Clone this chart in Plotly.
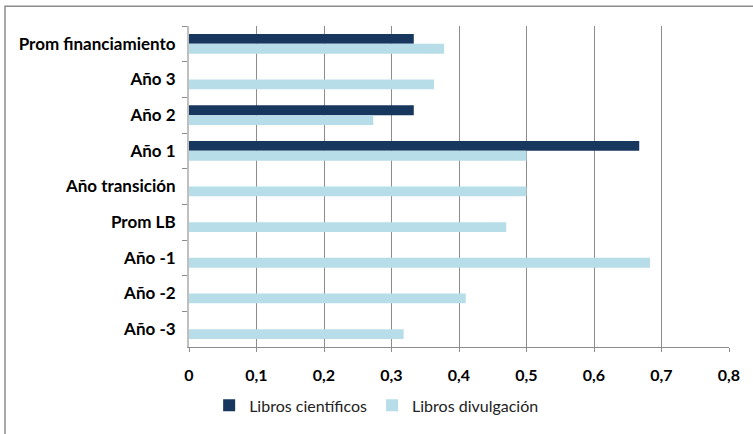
import plotly.graph_objects as go

# Categories listed top-to-bottom (axis reversed)
categories = ["Prom financiamiento", "Año 3", "Año 2", "Año 1", "Año transición",
              "Prom LB", "Año -1", "Año -2", "Año -3"]
libros_cientificos = [0.333, 0, 0.333, 0.667, 0, 0, 0, 0, 0]
libros_divulgacion = [0.378, 0.363, 0.273, 0.5, 0.5, 0.47, 0.683, 0.41, 0.318]
x_ticks = [0, 0.1, 0.2, 0.3, 0.4, 0.5, 0.6, 0.7, 0.8]

fig = go.Figure()
fig.add_trace(go.Bar(
    y=categories, x=libros_cientificos, orientation="h", name="Libros científicos",
    marker=dict(color="#17375E", line=dict(width=0)),
))
fig.add_trace(go.Bar(
    y=categories, x=libros_divulgacion, orientation="h", name="Libros divulgación",
    marker=dict(color="#B7DEE8", line=dict(width=0)),
))

fig.update_layout(
    width=753, height=434,
    margin=dict(l=189, r=24, t=26, b=82),
    paper_bgcolor="white", plot_bgcolor="white",
    barmode="group", bargap=0.45, bargroupgap=0,
    separators=",.",
    font=dict(family="Lato, 'Open Sans', sans-serif", color="#000000"),
    showlegend=True,
    legend=dict(orientation="h", x=0.3475, xanchor="center", y=-0.182, yanchor="middle",
                font=dict(size=16, color="#222222"), itemwidth=30, traceorder="normal",
                bgcolor="rgba(0,0,0,0)"),
    xaxis=dict(range=[0, 0.8], tickmode="array", tickvals=x_ticks,
               showgrid=True, gridcolor="#8C8C8C", gridwidth=1,
               showline=True, linecolor="#8C8C8C", linewidth=1,
               ticks="outside", ticklen=4, tickcolor="#8C8C8C",
               ticklabelstandoff=10, automargin=False,
               tickfont=dict(size=16, family="Lato, sans-serif", color="#000000", weight="bold"),
               zeroline=False, fixedrange=True),
    yaxis=dict(type="category", autorange="reversed", automargin=False,
               showline=True, linecolor="#BFBFBF", linewidth=2,
               ticks="outside", ticklen=5, tickcolor="#8C8C8C", tickson="boundaries",
               ticklabelstandoff=8,
               tickfont=dict(size=17, family="Lato, sans-serif", color="#000000", weight="bold"),
               showgrid=False, fixedrange=True),
    shapes=[dict(type="rect", xref="paper", yref="paper",
                 x0=(5 - 189) / 540, x1=(770 - 189) / 540,
                 y0=-(100 / 326), y1=1 + 20 / 326,
                 line=dict(color="#8C8C8C", width=1.5), fillcolor="rgba(0,0,0,0)",
                 layer="above")],
)

fig.write_html("out.html", config={"displayModeBar": False},
               post_script="document.body.style.margin='0px';document.body.style.padding='0px';")
